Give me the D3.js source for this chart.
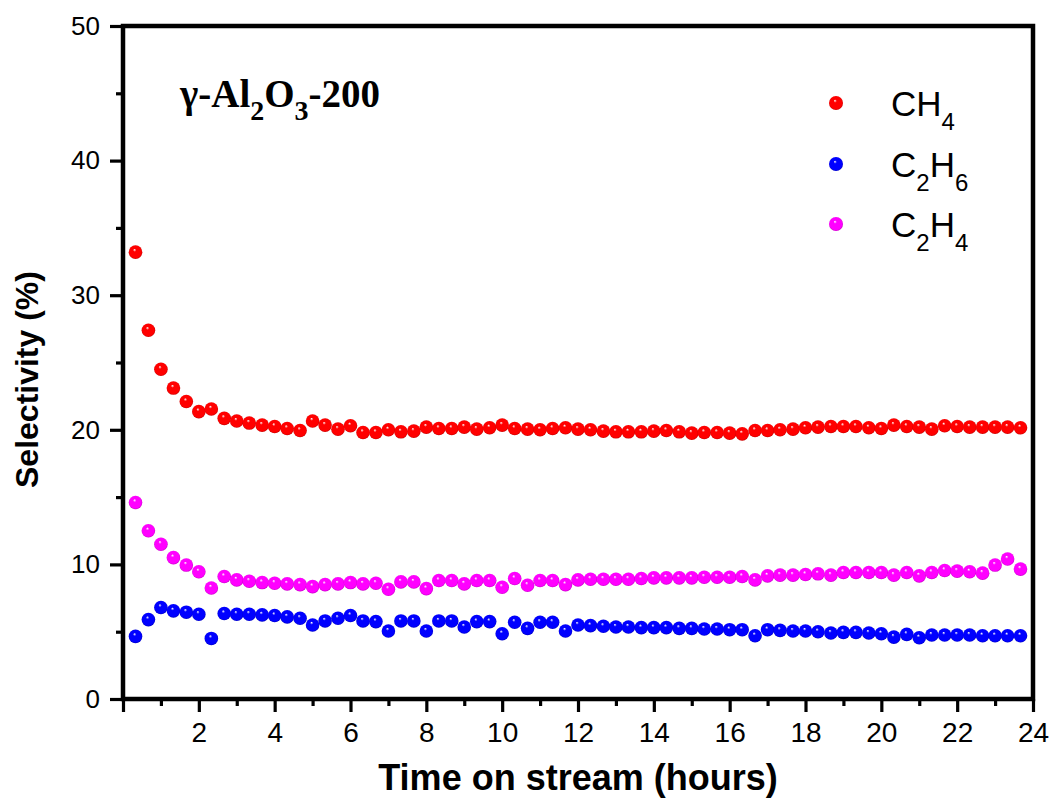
<!DOCTYPE html>
<html>
<head>
<meta charset="utf-8">
<script src="https://cdn.jsdelivr.net/npm/d3@7"></script>
<style>
  body { margin: 0; background: #fff; }
  svg { display: block; }
  text { font-family: "Liberation Sans", Arial, sans-serif; fill: #000; }
</style>
</head>
<body>
<svg></svg>
<script>
// time on stream (hours), one sample every 20 min
var time = [0.33,0.67,1,1.33,1.67,2,2.33,2.67,3,3.33,3.67,4,4.33,4.67,5,5.33,5.67,6,
  6.33,6.67,7,7.33,7.67,8,8.33,8.67,9,9.33,9.67,10,10.33,10.67,11,11.33,11.67,12,
  12.33,12.67,13,13.33,13.67,14,14.33,14.67,15,15.33,15.67,16,16.33,16.67,17,17.33,17.67,18,
  18.33,18.67,19,19.33,19.67,20,20.33,20.67,21,21.33,21.67,22,22.33,22.67,23,23.33,23.67];

var ch4 = [33.2,27.4,24.5,23.1,22.1,21.35,21.55,20.85,20.65,20.5,20.35,20.25,20.1,19.95,20.65,20.35,20.05,20.3,
  19.8,19.8,20.0,19.85,19.9,20.2,20.1,20.1,20.2,20.05,20.15,20.35,20.1,20.05,20.0,20.1,20.15,20.05,
  20.0,19.9,19.85,19.85,19.85,19.9,19.95,19.85,19.75,19.8,19.8,19.75,19.7,19.95,19.95,20.0,20.05,20.15,
  20.2,20.25,20.25,20.25,20.15,20.1,20.35,20.25,20.2,20.05,20.3,20.25,20.2,20.2,20.2,20.2,20.15];

var c2h6 = [4.65,5.9,6.8,6.55,6.45,6.3,4.5,6.35,6.3,6.3,6.25,6.2,6.1,6.0,5.5,5.8,6.0,6.2,
  5.8,5.75,5.05,5.8,5.8,5.05,5.8,5.8,5.35,5.75,5.75,4.85,5.7,5.25,5.7,5.7,5.05,5.5,
  5.45,5.4,5.35,5.35,5.3,5.3,5.3,5.25,5.25,5.2,5.2,5.15,5.15,4.7,5.15,5.1,5.05,5.05,
  5.0,4.9,4.95,4.95,4.9,4.85,4.6,4.8,4.55,4.75,4.75,4.75,4.75,4.7,4.7,4.7,4.7];

var c2h4 = [14.6,12.5,11.5,10.5,9.95,9.45,8.25,9.1,8.85,8.75,8.65,8.6,8.55,8.5,8.35,8.5,8.55,8.65,
  8.55,8.6,8.15,8.7,8.7,8.2,8.8,8.8,8.55,8.8,8.8,8.3,8.95,8.45,8.8,8.8,8.5,8.85,
  8.9,8.9,8.9,8.9,8.95,9.0,9.0,9.0,9.0,9.05,9.05,9.05,9.1,8.85,9.15,9.2,9.2,9.25,
  9.3,9.2,9.4,9.4,9.4,9.4,9.2,9.4,9.15,9.4,9.55,9.5,9.45,9.35,9.95,10.4,9.65];

var xMajor = [0,2,4,6,8,10,12,14,16,18,20,22,24];
var xMinor = [1,3,5,7,9,11,13,15,17,19,21,23];
var yMajor = [0,10,20,30,40,50];
var yMinor = [5,15,25,35,45];

var seriesNames = ["CH4", "C2H6", "C2H4"];
var seriesColors = ["#ff0000", "#0000ff", "#ff00ff"];
var seriesDark = ["#b00000", "#0000a8", "#b000b0"];

var svgWidth = 1055, svgHeight = 800;
var margin = { top: 26, right: 22, bottom: 101, left: 123 };
var width = svgWidth - margin.left - margin.right;
var height = svgHeight - margin.top - margin.bottom;

var svg = d3.select("svg")
    .attr("width", svgWidth)
    .attr("height", svgHeight);

// shiny ball markers
var defs = svg.append("defs");
seriesColors.forEach(function(c, i) {
  var g = defs.append("radialGradient")
      .attr("id", "ball" + i)
      .attr("cx", "50%").attr("cy", "50%").attr("r", "55%")
      .attr("fx", "42%").attr("fy", "32%");
  g.append("stop").attr("offset", "0%").attr("stop-color", "#ffffff");
  g.append("stop").attr("offset", "22%").attr("stop-color", c);
  g.append("stop").attr("offset", "80%").attr("stop-color", c);
  g.append("stop").attr("offset", "100%").attr("stop-color", seriesDark[i]);
});

var g = svg.append("g")
    .attr("transform", "translate(" + margin.left + "," + margin.top + ")");

var x = d3.scaleLinear().domain([0, 24]).range([0, width]);
var y = d3.scaleLinear().domain([0, 50]).range([height, 0]);

function styleAxis(sel, size) {
  sel.select(".domain").remove();
  sel.selectAll(".tick line").attr("stroke", "#000").attr("stroke-width", 3.2);
  sel.selectAll(".tick text")
     .style("font-family", "'Liberation Sans', Arial, sans-serif")
     .style("font-size", size + "px")
     .attr("fill", "#000");
}

g.append("g")
    .attr("transform", "translate(0," + height + ")")
    .call(d3.axisBottom(x).tickValues(xMajor).tickSize(13).tickPadding(10)
      .tickFormat(function(d) { return d === 0 ? "" : d; }))
    .call(styleAxis, 28);

g.append("g")
    .attr("transform", "translate(0," + height + ")")
    .call(d3.axisBottom(x).tickValues(xMinor).tickSize(7).tickFormat(""))
    .call(styleAxis, 28);

g.append("g")
    .call(d3.axisLeft(y).tickValues(yMajor).tickSize(13).tickPadding(10))
    .call(styleAxis, 26);

g.append("g")
    .call(d3.axisLeft(y).tickValues(yMinor).tickSize(7).tickFormat(""))
    .call(styleAxis, 26);

// frame
g.append("rect")
    .attr("width", width)
    .attr("height", height)
    .attr("fill", "none")
    .attr("stroke", "#000")
    .attr("stroke-width", 4.5);

// data
var allSeries = [ch4, c2h6, c2h4];
allSeries.forEach(function(vals, i) {
  g.append("g").selectAll("circle")
    .data(vals)
    .enter().append("circle")
    .attr("cx", function(d, j) { return x(time[j]); })
    .attr("cy", function(d) { return y(d); })
    .attr("r", 6.8)
    .attr("fill", "url(#ball" + i + ")");
});

// axis titles
svg.append("text")
    .attr("x", margin.left + width / 2)
    .attr("y", 790)
    .attr("text-anchor", "middle")
    .style("font-size", "36px")
    .style("font-weight", "bold")
    .text("Time on stream (hours)");

svg.append("text")
    .attr("transform", "translate(38," + (margin.top + height / 2 + 17) + ") rotate(-90)")
    .attr("text-anchor", "middle")
    .style("font-size", "32px")
    .style("font-weight", "bold")
    .text("Selectivity (%)");

// sample label
var title = svg.append("text")
    .attr("x", 180)
    .attr("y", 107)
    .style("font-family", "'Liberation Serif', 'Times New Roman', serif")
    .style("font-weight", "bold")
    .style("font-size", "39px");
title.append("tspan").text("\u03b3-Al");
title.append("tspan").attr("dy", 13).style("font-size", "28px").text("2");
title.append("tspan").attr("dy", -13).text("O");
title.append("tspan").attr("dy", 13).style("font-size", "28px").text("3");
title.append("tspan").attr("dy", -13).text("-200");

// legend
var legendY = [103, 164, 224];
var legendParts = [["CH", "4"], ["C", "2", "H", "6"], ["C", "2", "H", "4"]];
seriesNames.forEach(function(name, i) {
  svg.append("circle")
      .attr("cx", 836)
      .attr("cy", legendY[i])
      .attr("r", 7)
      .attr("fill", "url(#ball" + i + ")");
  var t = svg.append("text")
      .attr("x", 891)
      .attr("y", legendY[i] + 13)
      .style("font-size", "35px");
  legendParts[i].forEach(function(p, k) {
    var sub = k % 2 === 1;
    t.append("tspan")
      .attr("dy", k === 0 ? 0 : (sub ? 14 : -14))
      .style("font-size", sub ? "24px" : "35px")
      .text(p);
  });
});
</script>
</body>
</html>
